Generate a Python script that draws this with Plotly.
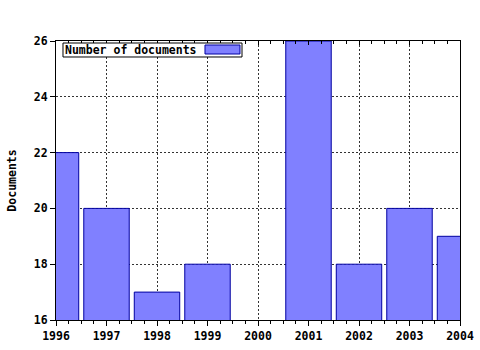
import plotly.graph_objects as go

years = [1996, 1997, 1998, 1999, 2000, 2001, 2002, 2003, 2004]
documents = [22, 20, 17, 18, None, 26, 18, 20, 19]
y_ticks = [16, 18, 20, 22, 24, 26]
series_name = "Number of documents"

FONT = dict(family="DejaVu Sans Mono", size=11.5, color="black", weight="bold")
BAR_FILL = "#8080ff"
BAR_LINE = "#0000a0"

fig = go.Figure()
fig.add_trace(go.Bar(
    x=years, y=documents, width=0.9,
    marker=dict(color=BAR_FILL, line=dict(color=BAR_LINE, width=1)),
    name=series_name, showlegend=False,
))

axis_common = dict(
    showline=True, linecolor="black", linewidth=1,
    showgrid=True, gridcolor="#333333", griddash="2px,2px", gridwidth=1,
    zeroline=False, tickcolor="black", tickfont=FONT, automargin=False,
)
fig.update_xaxes(
    range=[1996, 2004], tickvals=years, ticks="outside", ticklen=5,
    minor=dict(dtick=0.25, ticks="outside", ticklen=3, tickcolor="black", showgrid=False),
    **axis_common,
)
fig.update_yaxes(
    range=[16, 26], tickvals=y_ticks, ticks="outside", ticklen=5,
    title=dict(text="Documents", font=FONT, standoff=14),
    mirror=True, **axis_common,
)
# top axis with inward ticks
fig.update_layout(xaxis2=dict(
    overlaying="x", side="top", range=[1996, 2004], tickvals=years,
    ticks="inside", ticklen=4, tickcolor="black", showticklabels=False,
    showline=True, linecolor="black", showgrid=False, zeroline=False, automargin=False,
    minor=dict(dtick=0.25, ticks="inside", ticklen=3, tickcolor="black"),
))
fig.add_trace(go.Scatter(x=[None], y=[None], xaxis="x2", showlegend=False))

# legend box (drawn manually: text then swatch)
fig.add_shape(type="rect", xref="paper", yref="paper",
              x0=0.0173, x1=0.4604, y0=0.9427, y1=0.9928,
              line=dict(color="black", width=1), fillcolor="white")
fig.add_shape(type="rect", xref="paper", yref="paper",
              x0=0.3688, x1=0.4554, y0=0.9534, y1=0.9857,
              line=dict(color=BAR_LINE, width=1), fillcolor=BAR_FILL)
fig.add_annotation(xref="paper", yref="paper", x=0.018, y=0.968,
                   xanchor="left", yanchor="middle", showarrow=False,
                   text=series_name, font=FONT)

fig.update_layout(
    width=480, height=350, autosize=False,
    margin=dict(l=56, r=20, t=41, b=30, pad=0, autoexpand=False),
    paper_bgcolor="white", plot_bgcolor="white",
    bargap=0.1, showlegend=False,
)
fig.write_html("out.html")
